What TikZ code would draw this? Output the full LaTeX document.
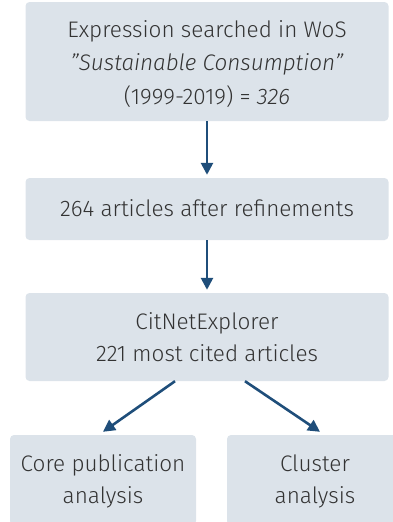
\documentclass[tikz,border=0pt]{standalone}
\usepackage{fontspec}
\setmainfont{Fira Sans Light}
\usetikzlibrary{arrows.meta}
\definecolor{boxfill}{HTML}{DCE3EA}
\definecolor{arrowblue}{HTML}{1F4E7A}
\definecolor{txt}{HTML}{333333}
\begin{document}
\begin{tikzpicture}[x=1pt,y=-1pt,
 box/.style={fill=boxfill, rounded corners=4pt, inner sep=0pt},
 label/.style={inner sep=0pt, text=txt, align=center, font=\fontsize{22.5}{32}\selectfont},
 conn/.style={draw=arrowblue, line width=2.6pt, -{Triangle[length=12pt,width=12pt]}}]
\useasboundingbox (0,0) rectangle (393,522);
\node[box, minimum width=363pt, minimum height=119pt] (b1) at (207,61.5) {};
\node[box, minimum width=363pt, minimum height=62pt] (b2) at (207,209) {};
\node[box, minimum width=363pt, minimum height=88pt] (b3) at (207,337) {};
\node[box, minimum width=186pt, minimum height=90pt] (b4) at (103,480) {};
\node[box, minimum width=176pt, minimum height=90pt] (b5) at (315,480) {};
\node[label, font=\fontsize{22.5}{33.5}\selectfont] (t1) at (207,64) {Expression searched in WoS\\\textit{"Sustainable Consumption"}\\(1999-2019) = \textit{326}};
\node[label] (t2) at (207,208) {264 articles after refinements};
\node[label] (t3) at (207,337.5) {CitNetExplorer\\221 most cited articles};
\node[label] (t4) at (103,481.5) {Core publication\\analysis};
\node[label] (t5) at (315,481.5) {Cluster\\analysis};
\draw[conn] (b1.south) -- ([yshift=3pt]b2.north);
\draw[conn] (b2.south) -- ([yshift=3pt]b3.north);
\draw[conn] ([xshift=-32pt]b3.south) -- ([yshift=3pt]b4.north);
\draw[conn] ([xshift=38pt]b3.south) -- ([xshift=5pt,yshift=3pt]b5.north);
\end{tikzpicture}
\end{document}
